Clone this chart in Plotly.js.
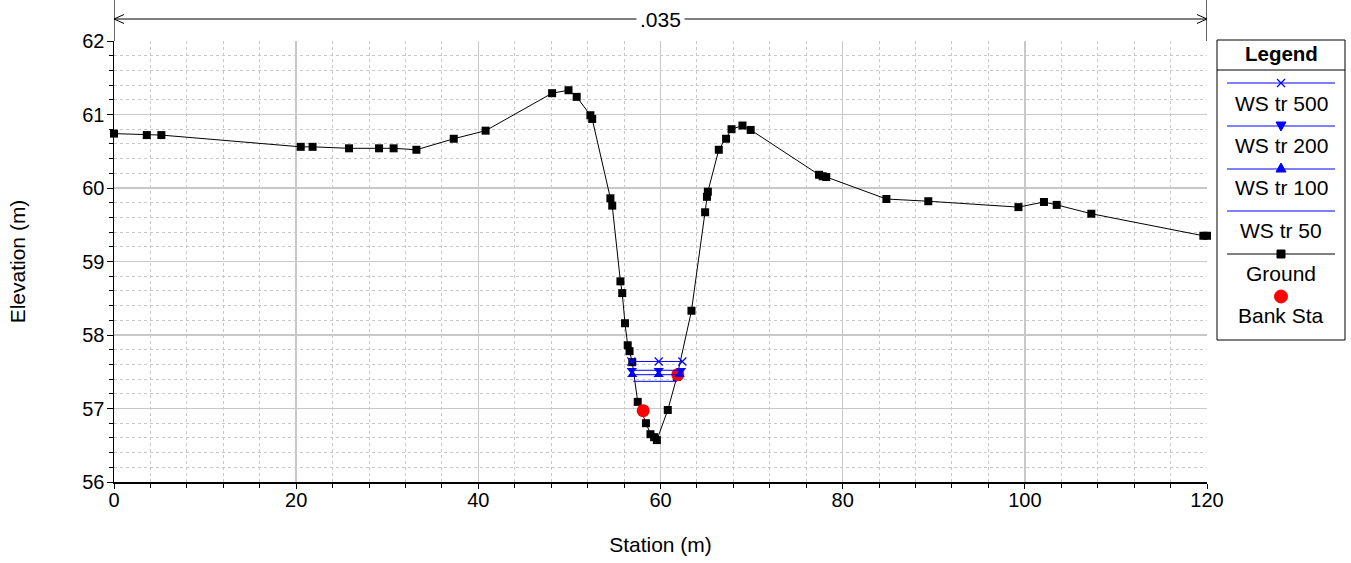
<!DOCTYPE html>
<html>
<head>
<meta charset="utf-8">
<script src="https://cdn.plot.ly/plotly-3.0.1.min.js"></script>
<style>html,body{margin:0;padding:0;background:#fff;}#chart{width:1351px;height:563px;}</style>
</head>
<body>
<div id="chart"></div>
<script>
// ---- Data ----
const groundStation = [0, 3.6, 5.2, 20.5, 21.8, 25.8, 29.1, 30.7, 33.2, 37.3, 40.8, 48.1, 49.9, 50.8, 52.3, 52.5, 54.5, 54.7, 55.6, 55.8, 56.1, 56.4, 56.6, 56.9, 57.5, 58.4, 58.9, 59.3, 59.6, 60.8, 61.8, 63.4, 64.9, 65.1, 65.2, 66.4, 67.2, 67.8, 69.0, 69.9, 77.4, 77.8, 78.2, 84.8, 89.4, 99.3, 102.1, 103.5, 107.3, 119.6, 120];
const groundElev    = [60.74, 60.72, 60.72, 60.56, 60.56, 60.54, 60.54, 60.54, 60.52, 60.67, 60.78, 61.29, 61.33, 61.24, 60.99, 60.94, 59.86, 59.76, 58.73, 58.57, 58.16, 57.86, 57.78, 57.63, 57.09, 56.80, 56.65, 56.61, 56.57, 56.98, 57.43, 58.33, 59.67, 59.88, 59.95, 60.52, 60.67, 60.80, 60.85, 60.79, 60.18, 60.16, 60.15, 59.85, 59.82, 59.74, 59.81, 59.77, 59.65, 59.35, 59.35];

const bankStation = [58.1, 61.9];
const bankElev    = [56.97, 57.46];

const ws500Station = [56.8, 59.8, 62.4];
const ws500Elev    = [57.64, 57.64, 57.64];
const ws200Station = [56.85, 59.8, 62.25];
const ws200Elev    = [57.52, 57.52, 57.52];
const ws100Station = [56.9, 59.8, 62.1];
const ws100Elev    = [57.46, 57.46, 57.46];
const ws50Station  = [57.0, 61.8];
const ws50Elev     = [57.37, 57.37];

const manningN = ".035";
const nStart = 0, nEnd = 120;

const legendNames = ["WS tr 500", "WS tr 200", "WS tr 100", "WS tr 50", "Ground", "Bank Sta"];

// ---- Layout helpers (pixel -> paper) ----
const W = 1351, H = 563;
const M = {l: 114, r: 144, t: 41, b: 81};
const PW = W - M.l - M.r, PH = H - M.t - M.b;
const px = x => (x - M.l) / PW;
const py = y => (H - M.b - y) / PH;

const FONT = "Liberation Sans, Arial, sans-serif";
const BLUE = "#0000ff";

const traces = [
  {x: groundStation, y: groundElev, name: legendNames[4], mode: "lines+markers", cliponaxis: false,
   line: {color: "#000", width: 1}, marker: {symbol: "square", size: 8, color: "#000"}},
  {x: bankStation, y: bankElev, name: legendNames[5], mode: "markers",
   marker: {symbol: "circle", size: 13, color: "#ff0000"}},
  {x: ws50Station, y: ws50Elev, name: legendNames[3], mode: "lines",
   line: {color: BLUE, width: 1}},
  {x: ws100Station, y: ws100Elev, name: legendNames[2], mode: "lines+markers",
   line: {color: BLUE, width: 1}, marker: {symbol: "triangle-up", size: 9, color: BLUE}},
  {x: ws200Station, y: ws200Elev, name: legendNames[1], mode: "lines+markers",
   line: {color: BLUE, width: 1}, marker: {symbol: "triangle-down", size: 9, color: BLUE}},
  {x: ws500Station, y: ws500Elev, name: legendNames[0], mode: "lines+markers",
   line: {color: BLUE, width: 1}, marker: {symbol: "x-thin-open", size: 8, color: BLUE, line: {color: BLUE, width: 1.2}}}
];

const shapes = [];
const annotations = [];

// Manning's n region marker above the plot
const nY = py(19);
shapes.push({type: "line", xref: "x", yref: "paper", x0: nStart, x1: nStart, y0: 1, y1: py(0), line: {color: "#000", width: 1.2}});
shapes.push({type: "line", xref: "x", yref: "paper", x0: nEnd, x1: nEnd, y0: 1, y1: py(0), line: {color: "#000", width: 1.2}});
shapes.push({type: "line", xref: "x", yref: "paper", x0: nStart, x1: nEnd, y0: nY, y1: nY, line: {color: "#000", width: 1}});
const ax = 10 / PW * 120, ay = 4.5 / PH;
shapes.push({type: "path", xref: "x", yref: "paper",
  path: `M ${nStart + ax} ${nY + ay} L ${nStart} ${nY} L ${nStart + ax} ${nY - ay}`, line: {color: "#000", width: 1}});
shapes.push({type: "path", xref: "x", yref: "paper",
  path: `M ${nEnd - ax} ${nY + ay} L ${nEnd} ${nY} L ${nEnd - ax} ${nY - ay}`, line: {color: "#000", width: 1}});
annotations.push({x: (nStart + nEnd) / 2, y: nY, xref: "x", yref: "paper", xanchor: "center", yanchor: "middle",
  text: manningN, showarrow: false, bgcolor: "#fff", borderpad: 3, font: {family: FONT, size: 21, color: "#000"}});

// Custom legend box
const LX0 = 1217, LX1 = 1345, LY0 = 40, LY1 = 340, LC = (LX0 + LX1) / 2;
shapes.push({type: "rect", xref: "paper", yref: "paper", x0: px(LX0), x1: px(LX1), y0: py(LY1), y1: py(LY0),
  line: {color: "#000", width: 1}, fillcolor: "#fff", layer: "above"});
shapes.push({type: "line", xref: "paper", yref: "paper", x0: px(LX0), x1: px(LX1), y0: py(70), y1: py(70),
  line: {color: "#000", width: 1}, layer: "above"});
annotations.push({x: px(LC), y: py(54), xref: "paper", yref: "paper", xanchor: "center", yanchor: "middle",
  text: "<b>Legend</b>", showarrow: false, font: {family: FONT, size: 20.5, color: "#000"}});

const entryLineY = [83, 126, 169, 211, 254];
const entryTextY = [103, 145, 187, 230, 273, 315];
const lineColors = [BLUE, BLUE, BLUE, BLUE, "#000"];
entryLineY.forEach((yy, i) => {
  shapes.push({type: "line", xref: "paper", yref: "paper", x0: px(1227), x1: px(1335), y0: py(yy), y1: py(yy),
    line: {color: lineColors[i], width: 1}, layer: "above"});
});
legendNames.forEach((nm, i) => {
  annotations.push({x: px(LC), y: py(entryTextY[i]), xref: "paper", yref: "paper", xanchor: "center", yanchor: "middle",
    text: nm, showarrow: false, font: {family: FONT, size: 21, color: "#000"}});
});
// legend markers
const s = 4;
shapes.push({type: "path", xref: "paper", yref: "paper", layer: "above",
  path: `M ${px(LC - s)} ${py(83 - s)} L ${px(LC + s)} ${py(83 + s)} M ${px(LC - s)} ${py(83 + s)} L ${px(LC + s)} ${py(83 - s)}`,
  line: {color: BLUE, width: 1.2}});
shapes.push({type: "path", xref: "paper", yref: "paper", layer: "above",
  path: `M ${px(LC - 5)} ${py(122)} L ${px(LC + 5)} ${py(122)} L ${px(LC)} ${py(131)} Z`,
  fillcolor: BLUE, line: {color: BLUE, width: 1}});
shapes.push({type: "path", xref: "paper", yref: "paper", layer: "above",
  path: `M ${px(LC - 5)} ${py(172)} L ${px(LC + 5)} ${py(172)} L ${px(LC)} ${py(163)} Z`,
  fillcolor: BLUE, line: {color: BLUE, width: 1}});
shapes.push({type: "rect", xref: "paper", yref: "paper", layer: "above",
  x0: px(LC - 4), x1: px(LC + 4), y0: py(258), y1: py(250), fillcolor: "#000", line: {color: "#000", width: 1}});
shapes.push({type: "circle", xref: "paper", yref: "paper", layer: "above",
  x0: px(LC - 6.5), x1: px(LC + 6.5), y0: py(303), y1: py(290), fillcolor: "#ff0000", line: {color: "#ff0000", width: 1}});

const GRID = "#c8c8c8";
const layout = {
  width: W, height: H,
  margin: M,
  paper_bgcolor: "#fff", plot_bgcolor: "#fff",
  showlegend: false,
  font: {family: FONT, size: 20, color: "#000"},
  xaxis: {
    range: [0, 120], dtick: 20, tick0: 0,
    showline: true, linecolor: "#000", linewidth: 1.5, mirror: false,
    ticks: "outside", ticklen: 5, tickcolor: "#000", tickwidth: 1,
    ticklabelstandoff: -6,
    showgrid: true, gridcolor: GRID, gridwidth: 1.5, zeroline: false,
    minor: {dtick: 4, showgrid: true, gridcolor: GRID, griddash: "3px,3px", gridwidth: 1, ticks: "outside", ticklen: 4, tickcolor: "#000"},
    tickfont: {family: FONT, size: 20},
    title: {text: "Station (m)", font: {family: FONT, size: 21}, standoff: 28}
  },
  yaxis: {
    range: [56, 62], dtick: 1, tick0: 56,
    showline: true, linecolor: "#000", linewidth: 1.5, mirror: false,
    ticks: "outside", ticklen: 6, tickcolor: "#000", tickwidth: 1,
    ticklabelstandoff: -2,
    showgrid: true, gridcolor: GRID, gridwidth: 1.5, zeroline: false,
    minor: {dtick: 0.2, showgrid: true, gridcolor: GRID, griddash: "3px,3px", gridwidth: 1, ticks: "outside", ticklen: 4, tickcolor: "#000"},
    tickfont: {family: FONT, size: 20},
    title: {text: "Elevation (m)", font: {family: FONT, size: 21}, standoff: 51}
  },
  shapes: shapes,
  annotations: annotations
};

Plotly.newPlot("chart", traces, layout, {displayModeBar: false, staticPlot: true});
</script>
</body>
</html>
